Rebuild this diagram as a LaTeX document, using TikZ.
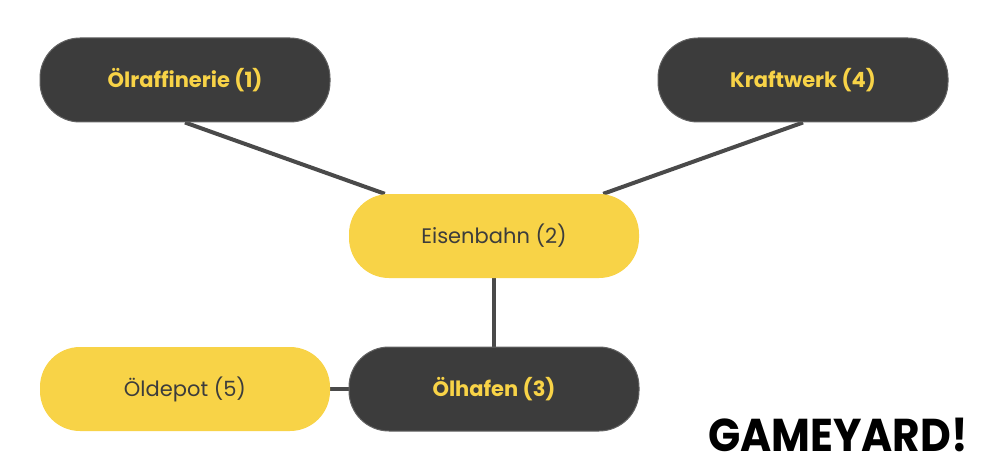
\documentclass[tikz,border=0pt]{standalone}
\usepackage{fontspec}
\setmainfont{Poppins}
\usetikzlibrary{positioning,calc,backgrounds}
\definecolor{darkbox}{HTML}{3C3C3C}
\definecolor{goldbox}{HTML}{F8D347}
\definecolor{linkgrey}{HTML}{4A4A4A}
\tikzset{
  darkStyle/.style = {rectangle, rounded corners=40pt, minimum width=290pt, minimum height=84pt, fill=darkbox, draw=darkbox!80!white, line width=1pt, text=goldbox, font=\fontsize{21}{24}\selectfont\bfseries},
  goldStyle/.style = {rectangle, rounded corners=40pt, minimum width=290pt, minimum height=84pt, fill=goldbox, text=darkbox, font=\fontsize{21}{24}\selectfont},
  linkStyle/.style = {draw=linkgrey, line width=4pt}
}
\begin{document}
\begin{tikzpicture}[x=1pt, y=-1pt]
\useasboundingbox (0,0) rectangle (990,476);
\node[darkStyle] (raf) at (185,80) {Ölraffinerie (1)};
\node[darkStyle] (kraft) at (803,80) {Kraftwerk (4)};
\node[goldStyle] (bahn) at (494,236) {Eisenbahn (2)};
\node[darkStyle] (hafen) at (494,389) {Ölhafen (3)};
\node[goldStyle] (depot) at (185,389) {Öldepot (5)};
\node[font=\fontsize{46}{50}\selectfont\bfseries, inner sep=0pt, xscale=0.92] (logo) at (838,435) {GAMEYARD!};
\begin{scope}[on background layer]
\draw[linkStyle] (raf.south) -- ($(bahn.north west)+(36,0)$);
\draw[linkStyle] (kraft.south) -- ($(bahn.north east)+(-36,0)$);
\draw[linkStyle] (bahn) -- (hafen);
\draw[linkStyle] (depot) -- (hafen);
\end{scope}
\end{tikzpicture}
\end{document}
